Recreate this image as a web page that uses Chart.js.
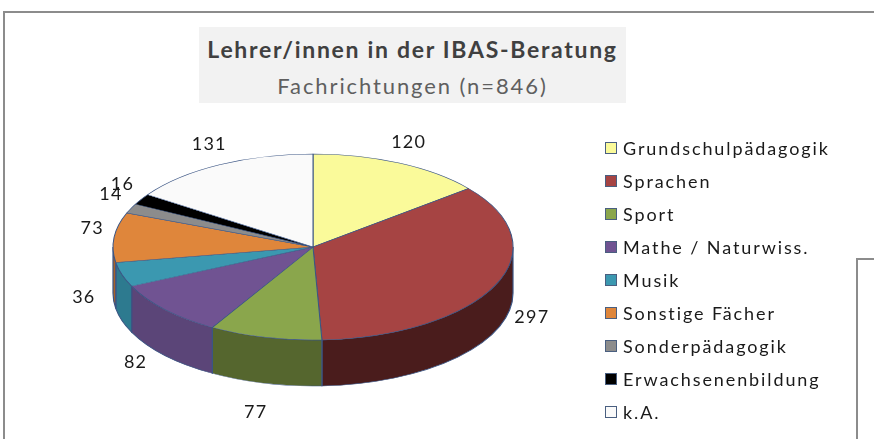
<!DOCTYPE html>
<html>
<head>
<meta charset="utf-8">
<script src="https://cdn.jsdelivr.net/npm/chart.js@4.4.1/dist/chart.umd.min.js"></script>
<style>
  body { margin: 0; width: 874px; height: 439px; overflow: hidden; position: relative; background: #fff; font-family: Lato, "Open Sans", sans-serif; }
  .frame { position: absolute; left: 3px; top: 11px; width: 900px; height: 500px; border-left: 2px solid #8c8c8c; border-top: 2px solid #8c8c8c; }
  .frame2 { position: absolute; left: 856px; top: 258px; width: 40px; height: 200px; border-left: 2px solid #8c8c8c; border-top: 2px solid #8c8c8c; }
  .titlebox { position: absolute; left: 199px; top: 27px; width: 427px; height: 76px; background: #f2f2f2; text-align: center; }
  .t1 { position: absolute; left: 0; right: 0; top: 8px; font-size: 23px; font-weight: bold; color: #404040; letter-spacing: 1.7px; }
  .t2 { position: absolute; left: 0; right: 0; top: 45px; font-size: 22px; color: #5f5f5f; letter-spacing: 1.9px; }
  #chart { position: absolute; left: 0; top: 0; }
  #legend { position: absolute; left: 605px; top: 131px; }
  .row { height: 33.1px; display: flex; align-items: center; font-size: 18px; color: #1a1a1a; line-height: 1; letter-spacing: 1.9px; }
  .sq { width: 12px; height: 12px; border: 1px solid #4a5f80; margin-right: 6px; box-sizing: border-box; }
</style>
</head>
<body>
<div class="frame"></div>
<div class="frame2"></div>
<div class="titlebox">
  <div class="t1">Lehrer/innen in der IBAS-Beratung</div>
  <div class="t2">Fachrichtungen (n=846)</div>
</div>
<canvas id="chart" width="874" height="439"></canvas>
<div id="legend"></div>
<script>
const labels = ['Grundschulpädagogik', 'Sprachen', 'Sport', 'Mathe / Naturwiss.', 'Musik', 'Sonstige Fächer', 'Sonderpädagogik', 'Erwachsenenbildung', 'k.A.'];
const counts = [120, 297, 77, 82, 36, 73, 14, 16, 131];
const topColors = ['#fafa9a', '#a64443', '#8aa64c', '#705392', '#3b98b0', '#df863b', '#8c8c8c', '#000000', '#fafafa'];
const sideColors = ['#b8b870', '#4a1c1c', '#55662e', '#5b4578', '#2d7a8f', '#a86228', '#666666', '#000000', '#cccccc'];

// where the tilted pie sits on the page
const CX = 313, CY = 247, RX = 200, RY = 93, DEPTH = 46;

const legend = document.getElementById('legend');
labels.forEach((l, i) => {
  const row = document.createElement('div');
  row.className = 'row';
  row.innerHTML = '<span class="sq" style="background:' + topColors[i] + '"></span><span>' + l + '</span>';
  legend.appendChild(row);
});

const pie3d = {
  id: 'pie3d',
  beforeDatasetsDraw(chart) {
    const ctx = chart.ctx;
    const arcs = chart.getDatasetMeta(0).data;
    const a = arcs[0];
    const kx = RX / a.outerRadius, ky = RY / a.outerRadius;
    ctx.save();
    ctx.translate(CX, CY);
    ctx.scale(kx, ky);
    ctx.translate(-a.x, -a.y);
    const d = DEPTH / ky;
    // side walls, only the front half shows
    arcs.forEach((arc, i) => {
      [[-2 * Math.PI, -Math.PI], [0, Math.PI], [2 * Math.PI, 3 * Math.PI]].forEach(([lo, hi]) => {
        const s = Math.max(arc.startAngle, lo), e = Math.min(arc.endAngle, hi);
        if (e <= s) return;
        ctx.beginPath();
        ctx.arc(arc.x, arc.y, arc.outerRadius, s, e);
        ctx.arc(arc.x, arc.y + d, arc.outerRadius, e, s, true);
        ctx.closePath();
        ctx.fillStyle = sideColors[i];
        ctx.fill();
        ctx.lineWidth = 1.2;
        ctx.strokeStyle = '#3b5584';
        ctx.stroke();
      });
    });
  },
  afterDatasetsDraw(chart) {
    const ctx = chart.ctx;
    ctx.restore();
    const arcs = chart.getDatasetMeta(0).data;
    ctx.save();
    ctx.font = '18px Lato, sans-serif';
    ctx.letterSpacing = '1.2px';
    ctx.fillStyle = '#1a1a1a';
    ctx.textAlign = 'center';
    ctx.textBaseline = 'middle';
    arcs.forEach((arc, i) => {
      const m = (arc.startAngle + arc.endAngle) / 2;
      const c = Math.cos(m), s = Math.sin(m);
      let x, y;
      if (s > 0) {
        x = CX + c * (RX + 40);
        y = CY + s * (RY + 20) + DEPTH * s * 1.25;
      } else {
        x = CX + c * (RX + 22);
        y = CY - 8 + s * (RY + 14);
      }
      ctx.fillText(String(counts[i]), x, y);
    });
    ctx.restore();
  }
};

new Chart(document.getElementById('chart'), {
  type: 'pie',
  data: {
    labels: labels,
    datasets: [{
      data: counts,
      backgroundColor: topColors,
      borderColor: '#3b5584',
      borderWidth: 1
    }]
  },
  options: {
    responsive: false,
    animation: false,
    layout: { padding: { left: 113, right: 361, top: 20, bottom: 19 } },
    plugins: {
      legend: { display: false },
      tooltip: { enabled: false }
    }
  },
  plugins: [pie3d]
});
</script>
</body>
</html>
